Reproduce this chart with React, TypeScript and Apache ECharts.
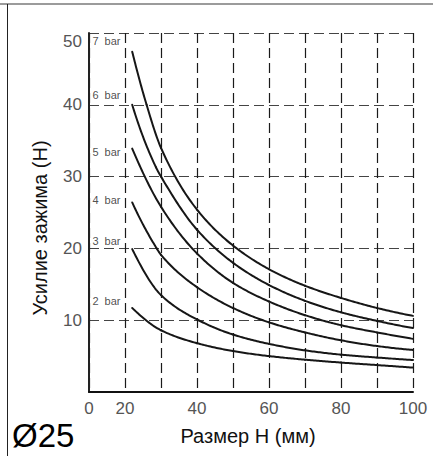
import React, { useEffect, useRef } from "react";
import * as echarts from "echarts";

// Clamping force vs. size H, one curve per supply pressure (read points, x in mm)
const sizeH7 = [22, 26, 30, 40, 50, 60, 70, 80, 90, 100];
const force7bar = [47.4, 40.0, 34.0, 25.4, 20.4, 17.1, 14.8, 13.1, 11.7, 10.6];
const sizeH6 = [22, 28.6, 30, 40, 50, 60, 70, 80, 90, 100];
const force6bar = [40.0, 31.3, 30.0, 22.6, 18.0, 14.9, 12.7, 11.1, 9.9, 8.9];
const sizeH5 = [22, 30, 40, 50, 60, 70, 80, 90, 100];
const force5bar = [33.9, 25.8, 19.3, 15.2, 12.6, 10.7, 9.3, 8.3, 7.4];
const sizeH4 = [22, 28.8, 30, 40, 50, 60, 70, 80, 90, 100];
const force4bar = [26.4, 20.0, 19.1, 14.6, 11.7, 9.7, 8.3, 7.2, 6.4, 5.85];
const sizeH3 = [22, 30, 40, 50, 60, 70, 80, 90, 100];
const force3bar = [19.9, 13.5, 10.1, 8.0, 6.7, 5.8, 5.2, 4.8, 4.45];
const sizeH2 = [22, 30, 40, 50, 60, 70, 80, 90, 100];
const force2bar = [11.7, 8.6, 6.8, 5.7, 5.0, 4.5, 4.1, 3.75, 3.4];

const pressureNames = ["7  bar", "6  bar", "5  bar", "4  bar", "3  bar", "2  bar"];
const pressureLabelX = 10.8;
const pressureLabelY = [48.9, 41.4, 33.4, 26.8, 21.0, 12.7];

// x axis starts at 10 but that tick is printed as "0" (shortened scale)
const xMin = 10;
const xMax = 100;
const xStep = 10;
const xShownTicks = [20, 40, 60, 80, 100];
const yMin = 0;
const yMax = 50;
const yStep = 10;

const titleY = "Усилие зажима (Н)";
const titleX = "Размер Н (мм)";
const diameterLabel = "Ø25";

const FONT = "'Liberation Sans', Arial, sans-serif";
const CURVE_COLOR = "#161616";

// Monotone (PCHIP) tangents so each curve bends smoothly through its points
function pchipTangents(xs: number[], ys: number[]): number[] {
  const n = xs.length;
  const h: number[] = [];
  const d: number[] = [];
  for (let i = 0; i < n - 1; i++) {
    h.push(xs[i + 1] - xs[i]);
    d.push((ys[i + 1] - ys[i]) / h[i]);
  }
  const m = new Array(n).fill(0);
  for (let i = 1; i < n - 1; i++) {
    if (d[i - 1] * d[i] <= 0) {
      m[i] = 0;
    } else {
      const w1 = 2 * h[i] + h[i - 1];
      const w2 = h[i] + 2 * h[i - 1];
      m[i] = (w1 + w2) / (w1 / d[i - 1] + w2 / d[i]);
    }
  }
  const endSlope = (h0: number, h1: number, d0: number, d1: number) => {
    let s = ((2 * h0 + h1) * d0 - h0 * d1) / (h0 + h1);
    if (Math.sign(s) !== Math.sign(d0)) s = 0;
    else if (Math.sign(d0) !== Math.sign(d1) && Math.abs(s) > Math.abs(3 * d0)) s = 3 * d0;
    return s;
  };
  m[0] = n > 2 ? endSlope(h[0], h[1], d[0], d[1]) : d[0];
  m[n - 1] = n > 2 ? endSlope(h[n - 2], h[n - 3], d[n - 2], d[n - 3]) : d[n - 2];
  return m;
}

export default function App() {
  const ref = useRef<HTMLDivElement>(null);

  useEffect(() => {
    document.body.style.margin = "0";
    if (!ref.current) return;
    const chart = echarts.init(ref.current, undefined, { renderer: "svg" });

    const curves: [number[], number[]][] = [
      [sizeH7, force7bar],
      [sizeH6, force6bar],
      [sizeH5, force5bar],
      [sizeH4, force4bar],
      [sizeH3, force3bar],
      [sizeH2, force2bar],
    ];

    const curveSeries = curves.map(([xs, ys], ci) => {
      const tangents = pchipTangents(xs, ys);
      return {
        type: "custom",
        name: pressureNames[ci],
        data: xs.map((x, j) => [x, ys[j]]),
        encode: { x: 0, y: 1 },
        z: 5,
        renderItem: (params: any, api: any) => {
          const i = params.dataIndex;
          if (i >= xs.length - 1) return null;
          const x0 = xs[i];
          const x1 = xs[i + 1];
          const y0 = ys[i];
          const y1 = ys[i + 1];
          const hh = x1 - x0;
          const pts: number[][] = [];
          const steps = 24;
          for (let k = 0; k <= steps; k++) {
            const t = k / steps;
            const t2 = t * t;
            const t3 = t2 * t;
            const y =
              (2 * t3 - 3 * t2 + 1) * y0 +
              (t3 - 2 * t2 + t) * hh * tangents[i] +
              (-2 * t3 + 3 * t2) * y1 +
              (t3 - t2) * hh * tangents[i + 1];
            pts.push(api.coord([x0 + t * hh, y]));
          }
          return {
            type: "polyline",
            shape: { points: pts },
            style: {
              stroke: CURVE_COLOR,
              lineWidth: 2,
              fill: "none",
              lineCap: "round",
              lineJoin: "round",
            },
          };
        },
      };
    });

    const labelSeries = {
      type: "scatter",
      data: pressureLabelY.map((y) => [pressureLabelX, y]),
      symbolSize: 1,
      itemStyle: { color: "rgba(0,0,0,0)" },
      label: {
        show: true,
        position: "right",
        distance: 0,
        formatter: (p: any) => pressureNames[p.dataIndex],
        fontSize: 11,
        fontFamily: FONT,
        color: "#222",
      },
      z: 6,
    };

    chart.setOption({
      animation: false,
      backgroundColor: "#fff",
      grid: { left: 89, right: 20, top: 33, bottom: 64, containLabel: false },
      xAxis: {
        type: "value",
        min: xMin,
        max: xMax,
        interval: xStep,
        axisLine: { show: true, onZero: false, lineStyle: { color: "#111", width: 2 } },
        axisTick: { show: false },
        axisLabel: {
          fontSize: 17,
          fontFamily: FONT,
          color: "#555",
          margin: 8,
          formatter: (v: number) =>
            v === xMin ? "0" : xShownTicks.includes(v) ? String(v) : "",
        },
        splitLine: {
          show: true,
          lineStyle: { color: "#1a1a1a", width: 1.2, type: [10, 5] },
        },
      },
      yAxis: {
        type: "value",
        min: yMin,
        max: yMax,
        interval: yStep,
        axisLine: { show: true, lineStyle: { color: "#222", width: 2 } },
        axisTick: { show: false },
        axisLabel: {
          fontSize: 17,
          fontFamily: FONT,
          color: "#555",
          margin: 7,
          verticalAlignMaxLabel: "top",
          formatter: (v: number) => (v === 0 ? "" : String(v)),
        },
        splitLine: {
          show: true,
          lineStyle: { color: "#444", width: 1.2, type: [10, 5] },
        },
      },
      series: [...curveSeries, labelSeries],
      graphic: [
        {
          type: "line",
          shape: { x1: 0, y1: 4, x2: 433, y2: 4 },
          style: { stroke: "#7a7a7a", lineWidth: 1.5 },
        },
        {
          type: "line",
          shape: { x1: 7.5, y1: 4, x2: 7.5, y2: 456 },
          style: { stroke: "#222", lineWidth: 1 },
        },
        {
          type: "text",
          x: 40,
          y: 228,
          rotation: Math.PI / 2,
          style: {
            text: titleY,
            fontSize: 20,
            fontFamily: FONT,
            fill: "#111",
            align: "center",
            verticalAlign: "middle",
          },
        },
        {
          type: "text",
          x: 248,
          y: 436,
          style: {
            text: titleX,
            fontSize: 20,
            fontFamily: FONT,
            fill: "#111",
            align: "center",
            verticalAlign: "middle",
          },
        },
        {
          type: "text",
          x: 12,
          y: 435,
          style: {
            text: diameterLabel,
            fontSize: 33,
            fontFamily: FONT,
            fill: "#000",
            align: "left",
            verticalAlign: "middle",
          },
        },
      ],
    });

    return () => chart.dispose();
  }, []);

  return <div ref={ref} style={{ width: 433, height: 456 }} />;
}
